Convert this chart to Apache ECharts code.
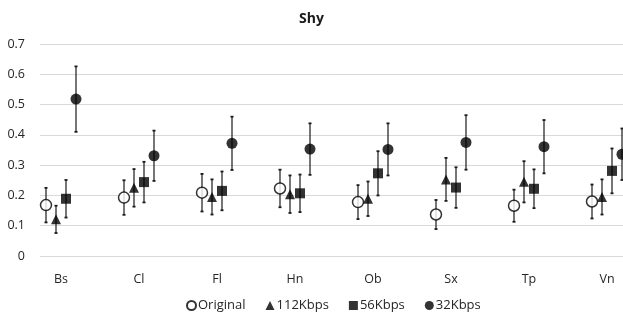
<!DOCTYPE html>
<html><head><meta charset="utf-8">
<script src="https://cdn.jsdelivr.net/npm/echarts@6/dist/echarts.min.js"></script>
<style>html,body{margin:0;padding:0;background:#fff}#c{width:623px;height:322px}</style>
</head><body><div id="c"></div>
<script>
const categories = ['Bs','Cl','Fl','Hn','Ob','Sx','Tp','Vn'];
const seriesNames = ['Original','112Kbps','56Kbps','32Kbps'];
const original    = [0.168,0.193,0.209,0.223,0.178,0.137,0.166,0.180];
const originalErr = [0.057,0.057,0.062,0.062,0.056,0.048,0.053,0.056];
const k112        = [0.121,0.225,0.195,0.204,0.189,0.253,0.245,0.195];
const k112Err     = [0.045,0.062,0.058,0.062,0.057,0.071,0.068,0.058];
const k56         = [0.189,0.244,0.215,0.207,0.273,0.226,0.222,0.281];
const k56Err      = [0.062,0.067,0.064,0.062,0.073,0.067,0.064,0.074];
const k32         = [0.518,0.331,0.372,0.353,0.352,0.375,0.361,0.336];
const k32Err      = [0.108,0.083,0.088,0.085,0.086,0.090,0.088,0.085];
const yTicks = [0,0.1,0.2,0.3,0.4,0.5,0.6,0.7];

const values = [original,k112,k56,k32];
const errs = [originalErr,k112Err,k56Err,k32Err];
const offsets = [-15,-5,5,15];
const symbols = ['circle','triangle','rect','circle'];
const sizes = [11,10,10,11];
const fills = ['#fff','#000','#000','#000'];

const font = '"Open Sans", "Liberation Sans", sans-serif';
const chart = echarts.init(document.getElementById('c'));
const series = [];
values.forEach((vals, s) => {
  const dx = offsets[s];
  series.push({
    type: 'custom',
    name: seriesNames[s] + ' err',
    z: 1,
    silent: true,
    data: vals.map((v,i)=>[i+1, v, errs[s][i]]),
    renderItem: function(params, api){
      const x = api.value(0), y = api.value(1), e = api.value(2);
      const top = api.coord([x, y+e]);
      const bot = api.coord([x, y-e]);
      const px = top[0] + dx;
      const st = {stroke:'#1a1a1a', lineWidth:1.2};
      return {type:'group', children:[
        {type:'line', shape:{x1:px,y1:top[1],x2:px,y2:bot[1]}, style:st},
        {type:'line', shape:{x1:px-1.5,y1:top[1],x2:px+1.5,y2:top[1]}, style:{stroke:'#1a1a1a',lineWidth:1.8}},
        {type:'line', shape:{x1:px-1.5,y1:bot[1],x2:px+1.5,y2:bot[1]}, style:{stroke:'#1a1a1a',lineWidth:1.8}}
      ]};
    }
  });
  series.push({
    type: 'scatter',
    name: seriesNames[s],
    z: 3,
    symbol: symbols[s],
    symbolSize: sizes[s],
    symbolOffset: [dx, 0],
    itemStyle: {color: fills[s], borderColor:'#000', borderWidth: s===0?1.5:0},
    data: vals.map((v,i)=>[i+1, v])
  });
});

chart.setOption({
  animation: false,
  title: {text:'Shy', left:'center', top:7, textStyle:{fontFamily:font, fontSize:14, fontWeight:'bold', color:'#1a1a1a'}},
  grid: {left:40, right:0, top:44, bottom:66},
  legend: {
    data: seriesNames, left: 181, bottom: 5, itemWidth: 9, itemHeight: 9, itemGap: 20,
    textStyle:{fontFamily:font, fontSize:13, color:'#262626', padding:[0,0,0,-3]}
  },
  xAxis: {
    type:'value', min: 1-21/78, max: 1-21/78+583/78,
    splitLine:{show:false}, axisLine:{show:false}, axisTick:{show:false},
    axisLabel:{
      customValues: categories.map((c,i)=>i+1),
      formatter: v => categories[Math.round(v)-1] || '',
      fontFamily:font, fontSize:12.5, color:'#262626', margin:17
    }
  },
  yAxis: {
    type:'value', min:yTicks[0], max:yTicks[yTicks.length-1], interval:0.1,
    axisLine:{show:false}, axisTick:{show:false},
    splitLine:{lineStyle:{color:'#d9d9d9', width:1}},
    axisLabel:{fontFamily:font, fontSize:12.5, color:'#262626', margin:15}
  },
  series: series
});
</script></body></html>
